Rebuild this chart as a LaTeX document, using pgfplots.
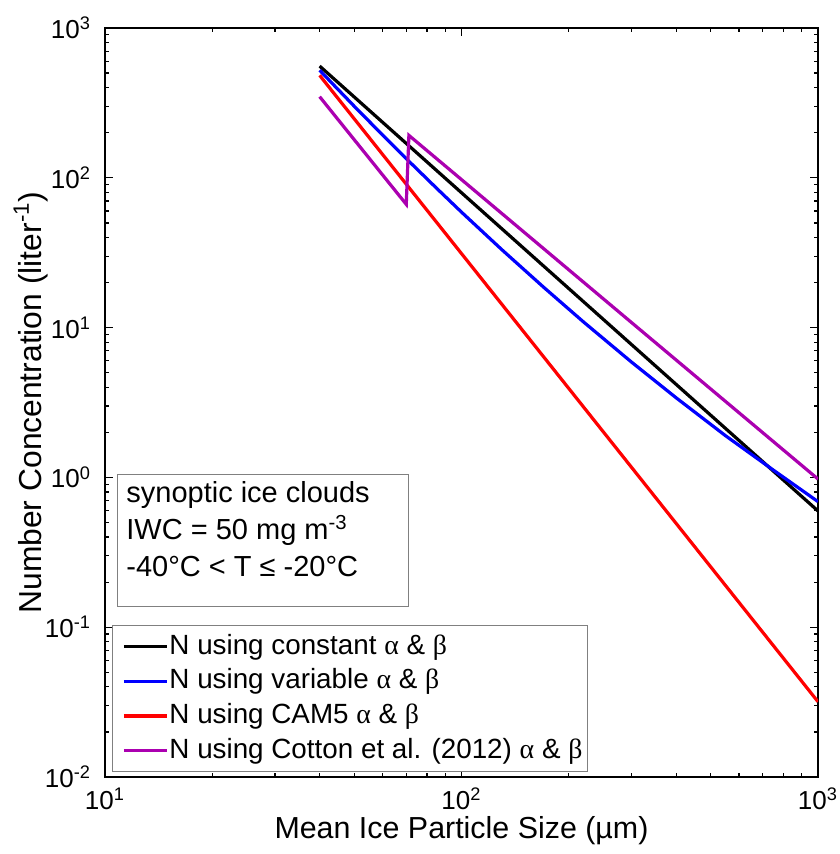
\documentclass[border=0pt]{standalone}
\usepackage{fontspec}
\setmainfont{Liberation Sans}
\newfontfamily\gr{Liberation Serif}
\usepackage{pgfplots}
\pgfplotsset{compat=1.18}

\definecolor{cblue}{rgb}{0,0,1}
\definecolor{cred}{rgb}{1,0,0}
\definecolor{cpurple}{rgb}{0.67,0,0.69}

\begin{document}
\begin{tikzpicture}
\begin{axis}[
    name=ax,
    xmode=log, ymode=log,
    scale only axis,
    width=356.5pt, height=374.5pt,
    xmin=10, xmax=1000, ymin=0.01, ymax=1000,
    axis line style={line width=0.8pt},
    every tick/.style={black, line width=0.6pt},
    major tick length=4pt, minor tick length=2pt,
    xtick={10,100,1000},
    xticklabels={10\textsuperscript{1},10\textsuperscript{2},10\textsuperscript{3}},
    minor xtick={20,30,40,50,60,70,80,90,200,300,400,500,600,700,800,900},
    ytick={0.01,0.1,1,10,100,1000},
    yticklabels={10\textsuperscript{-2},10\textsuperscript{-1},10\textsuperscript{0},10\textsuperscript{1},10\textsuperscript{2},10\textsuperscript{3}},
    minor ytick={0.02,0.03,0.04,0.05,0.06,0.07,0.08,0.09,0.2,0.3,0.4,0.5,0.6,0.7,0.8,0.9,2,3,4,5,6,7,8,9,20,30,40,50,60,70,80,90,200,300,400,500,600,700,800,900},
    tick label style={font=\fontsize{13}{15}\selectfont},
    xticklabel style={yshift=-2pt},
    yticklabel style={xshift=-3.5pt},
    xlabel={Mean Ice Particle Size (µm)},
    ylabel={Number Concentration (liter\textsuperscript{-1})},
    xlabel style={font=\fontsize{15.2}{18}\selectfont, at={(axis description cs:0.5,-0.071)}, anchor=center},
    ylabel style={font=\fontsize{15.9}{18}\selectfont, at={(axis description cs:-0.104,0.5)}, anchor=center},
    legend image code/.code={\path (0pt,0pt); \draw[#1] (2.35pt,0pt) -- (23.85pt,0pt);},
    legend cell align=left,
    legend style={
        at={(rel axis cs:0.0098,0.203)}, anchor=north west,
        draw=gray, fill=white, line width=0.6pt,
        inner xsep=2.5pt, inner ysep=1.8pt,
        font=\fontsize{13.9}{17}\selectfont,
        nodes={inner sep=0pt, text height=12.5pt, text depth=4.85pt},
        column sep=0.5pt, row sep=0pt
    }
]
\addplot[black, line width=1.6pt] coordinates {
    (40,557) (100,79.5) (300,7.70) (1000,0.597)
};
\addlegendentry{N using constant {\gr α} \& {\gr β}}
\addplot[cblue, line width=1.6pt] coordinates {
    (40,522) (50,300.6) (60,193.6) (70,134.2) (85,85.5) (100,59.0) (130,33.0)
    (170,18.6) (220,10.9) (300,5.88) (400,3.40) (550,1.90) (750,1.118) (1000,0.689)
};
\addlegendentry{N using variable {\gr α} \& {\gr β}}
\addplot[cred, line width=1.6pt] coordinates {
    (40,483) (100,31.2) (300,1.166) (1000,0.0318)
};
\addlegendentry{N using CAM5 {\gr α} \& {\gr β}}
\addplot[cpurple, line width=1.6pt] coordinates {
    (40,348) (70,66.5) (71.2,192) (100,97.3) (300,10.8) (1000,0.975)
};
\addlegendentry{N using Cotton et al. (2012) {\gr α} \& {\gr β}}

\node[draw=gray, line width=0.6pt, fill=white, anchor=north west, inner sep=0pt,
      minimum width=145.5pt, minimum height=65.9pt] (box) at (rel axis cs:0.0168,0.4045) {};
\node[anchor=north west, inner sep=0pt, align=left, font=\fontsize{14.5}{18.5}\selectfont]
    at ([shift={(4.5pt,-3.5pt)}]box.north west)
    {synoptic ice clouds\\IWC = 50 mg m\textsuperscript{-3}\\-40°C < T ≤ -20°C};
\end{axis}
\pgfresetboundingbox
\path ([shift={(-52.5pt,-38.5pt)}]ax.south west) rectangle ([shift={(10.5pt,14pt)}]ax.north east);
\end{tikzpicture}
\end{document}
